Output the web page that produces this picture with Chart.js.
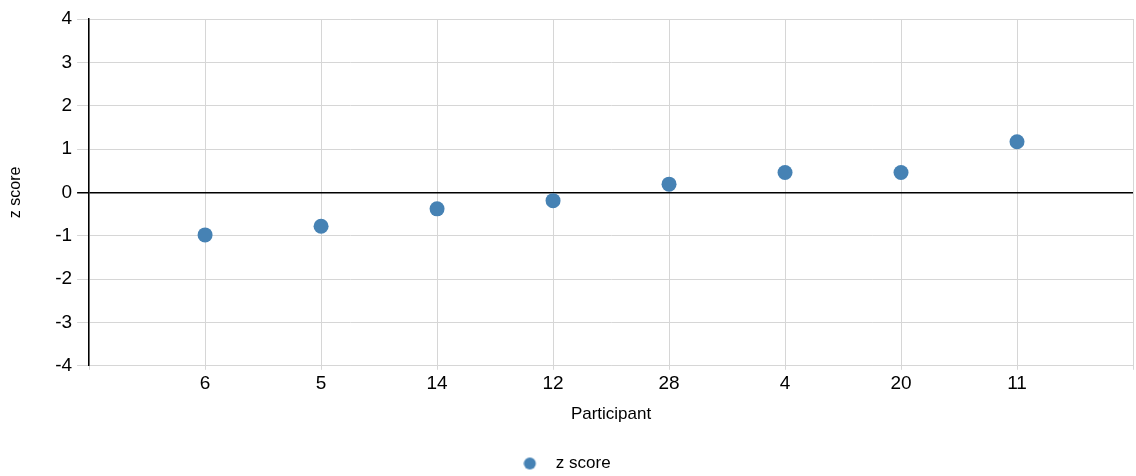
<!DOCTYPE html>
<html>
<head>
<meta charset="utf-8">
<script src="https://cdn.jsdelivr.net/npm/chart.js@4"></script>
<style>
  html, body { margin: 0; padding: 0; background: #fff; }
  #wrap { width: 1136px; height: 476px; }
</style>
</head>
<body>
<div id="wrap"><canvas id="zChart"></canvas></div>
<script>
// participants in display order and their z scores
const participants = ['6', '5', '14', '12', '28', '4', '20', '11'];
const zScores = [-0.98, -0.78, -0.38, -0.19, 0.19, 0.46, 0.46, 1.17];
const yTicks = [-4, -3, -2, -1, 0, 1, 2, 3, 4];

// empty slot on each side so the points sit off the axes
const labels = [''].concat(participants, ['']);
const values = [null].concat(zScores, [null]);

const dotColor = '#4682b4';

// legend marker: dot on the left of a wider box, leaves a gap before the text
function legendDot() {
    const c = document.createElement('canvas');
    c.width = 24;
    c.height = 14;
    const g = c.getContext('2d');
    g.fillStyle = dotColor;
    g.beginPath();
    g.arc(6.5, 7, 6, 0, Math.PI * 2);
    g.fill();
    return c;
}

Chart.defaults.font.family = "'Liberation Sans', Arial, sans-serif";
Chart.defaults.color = '#000';

const ctx = document.getElementById('zChart').getContext('2d');
new Chart(ctx, {
    type: 'line',
    data: {
        labels: labels,
        datasets: [{
            label: 'z score',
            data: values,
            showLine: false,
            borderWidth: 0,
            // the empty end slots get no radius so they don't pad the chart area
            pointRadius: c => c.raw == null ? 0 : 7.5,
            pointHoverRadius: c => c.raw == null ? 0 : 7.5,
            pointBackgroundColor: dotColor,
            pointBorderColor: dotColor,
            pointBorderWidth: 0,
            backgroundColor: dotColor,
            borderColor: dotColor
        }]
    },
    options: {
        responsive: true,
        maintainAspectRatio: false,
        animation: false,
        // negative bottom pushes the legend row a little lower
        layout: { padding: { top: 19, right: 2, left: 0, bottom: -6 } },
        scales: {
            x: {
                type: 'category',
                offset: false,
                grid: {
                    color: '#d6d6d6',
                    lineWidth: 1,
                    tickLength: 4
                },
                border: { color: '#d6d6d6' },
                ticks: {
                    autoSkip: false,
                    maxRotation: 0,
                    padding: 3,
                    font: { size: 19 }
                },
                title: {
                    display: true,
                    text: 'Participant',
                    font: { size: 17 },
                    padding: { top: 6, bottom: 18 }
                }
            },
            y: {
                min: -4,
                max: 4,
                afterBuildTicks: function (axis) {
                    axis.ticks = yTicks.map(v => ({ value: v }));
                },
                grid: {
                    color: c => (c.tick && c.tick.value === 0) ? '#000' : '#d6d6d6',
                    lineWidth: c => (c.tick && c.tick.value === 0) ? 1.5 : 1,
                    tickLength: 12
                },
                border: { color: '#000', width: 1.5 },
                ticks: {
                    padding: 5,
                    font: { size: 19 }
                },
                title: {
                    display: true,
                    text: 'z score',
                    font: { size: 16 },
                    padding: { top: 6, bottom: 25 }
                }
            }
        },
        plugins: {
            tooltip: { enabled: false },
            legend: {
                position: 'bottom',
                labels: {
                    usePointStyle: true,
                    pointStyle: legendDot(),
                    pointStyleWidth: 24,
                    boxHeight: 14,
                    padding: 12,
                    font: { size: 17 }
                }
            }
        }
    }
});
</script>
</body>
</html>
